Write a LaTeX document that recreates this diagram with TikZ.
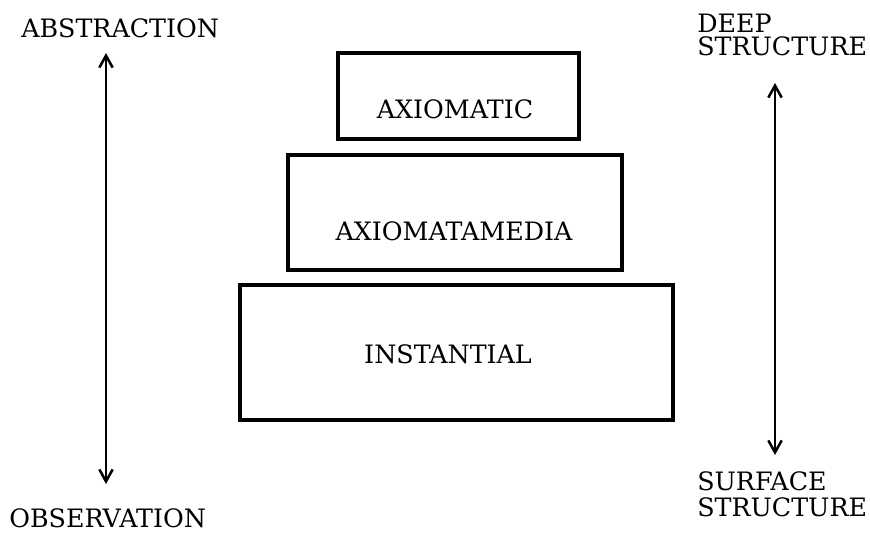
\documentclass[tikz,border=0pt]{standalone}
\usepackage{fontspec}
\setmainfont{DejaVu Serif}
\usetikzlibrary{arrows.meta}
\begin{document}
\begin{tikzpicture}[x=0.75pt,y=-0.75pt,
  levelbox/.style={draw,line width=2.3pt,rectangle,inner sep=0pt},
  lbl/.style={inner sep=0pt,font=\fontsize{19}{22}\selectfont},
  dblarrow/.style={line width=1.9pt,{Straight Barb[length=9pt,width=10pt,line width=1.9pt]}-{Straight Barb[length=9pt,width=10pt,line width=1.9pt]}}]
\useasboundingbox (0,0) rectangle (870,532);
% boxes
\node[levelbox,minimum width=241*0.75pt,minimum height=86*0.75pt] (top) at (458.5,96) {};
\node[levelbox,minimum width=334*0.75pt,minimum height=115*0.75pt] (mid) at (455,212.5) {};
\node[levelbox,minimum width=433*0.75pt,minimum height=135*0.75pt] (bot) at (456.5,352.5) {};
% box texts
\node[lbl,anchor=base] (ttop) at (455,118) {AXIOMATIC};
\node[lbl,anchor=base] (tmid) at (454,240) {AXIOMATAMEDIA};
\node[lbl,anchor=base] (tbot) at (448,363) {INSTANTIAL};
% side labels
\node[lbl,anchor=base west] (abs) at (21,37) {ABSTRACTION};
\node[lbl,anchor=base west] (obs) at (9,527) {OBSERVATION};
\node[lbl,anchor=base west] (deep) at (697,32) {DEEP};
\node[lbl,anchor=base west] (deep2) at (697,55) {STRUCTURE};
\node[lbl,anchor=base west] (surf) at (697,490) {SURFACE};
\node[lbl,anchor=base west] (surf2) at (697,516) {STRUCTURE};
% arrows
\coordinate (la) at (106,53);
\coordinate (lb) at (106,484);
\coordinate (ra) at (775,83);
\coordinate (rb) at (775,455);
\draw[dblarrow] (la) -- (lb);
\draw[dblarrow] (ra) -- (rb);
\end{tikzpicture}
\end{document}
